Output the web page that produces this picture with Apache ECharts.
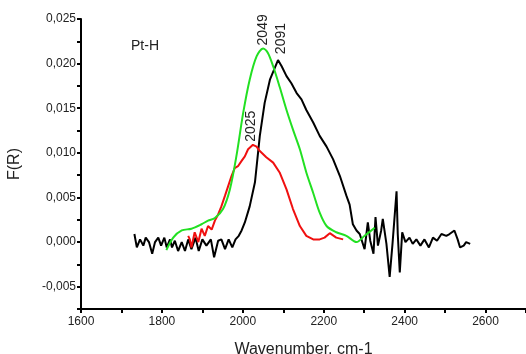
<!DOCTYPE html>
<html>
<head>
<meta charset="utf-8">
<script src="https://cdn.jsdelivr.net/npm/echarts@6/dist/echarts.min.js"></script>
<style>html,body{margin:0;padding:0;background:#fff}#c{width:526px;height:354px}</style>
</head>
<body>
<div id="c"></div>
<script>
const blackX = [1732,1738,1746,1754,1760,1768,1776,1783,1791,1798,1806,1812,1820,1825,1832,1840,1849,1857,1865,1873,1883,1891,1900,1910,1921,1929,1939,1947,1956,1965,1974,1982,1990,1997,2005,2017,2030,2042,2054,2067,2077,2087,2096,2108,2120,2133,2145,2157,2174,2190,2207,2223,2240,2256,2264,2272,2281,2289,2301,2309,2315,2323,2328,2334,2342,2346,2355,2363,2370,2380,2383,2388,2394,2402,2412,2420,2429,2439,2449,2460,2470,2480,2491,2503,2511,2523,2531,2537,2546,2552,2562];
const blackY = [0.0009,-0.0006,0.0003,-0.0004,0.0005,0.0000,-0.0013,0.0000,0.0005,-0.0004,0.0005,-0.0006,0.0003,-0.0006,0.00015,-0.0010,0.0000,-0.0010,0.0003,-0.0008,0.0005,-0.0010,0.0003,-0.0004,0.0003,-0.0017,0.00015,0.0003,-0.0008,0.0003,-0.0006,0.0003,0.0007,0.0013,0.0022,0.0040,0.0067,0.0119,0.0156,0.0182,0.0193,0.0204,0.0197,0.0186,0.0178,0.0167,0.0160,0.0148,0.0134,0.0119,0.0107,0.0093,0.0074,0.0052,0.0042,0.0020,0.0013,0.0009,-0.0008,0.0022,0.00015,-0.0013,0.0028,-0.0004,0.0013,0.0026,-0.0002,-0.0039,-0.0002,0.0057,0.0009,-0.0034,0.0011,0.0000,0.0005,-0.0002,0.0003,-0.0004,0.0003,-0.0006,0.0005,0.00015,0.0009,0.0007,0.0009,0.0013,0.0003,-0.0006,-0.0004,0.0000,-0.0002];

const greenX = [1811,1828,1849,1873,1898,1914,1931,1951,1968,1984,2001,2017,2034,2050,2062,2075,2091,2108,2124,2141,2157,2174,2190,2207,2231,2256,2281,2301,2326];
const greenY = [-0.0009,0.0005,0.0013,0.0015,0.0020,0.0024,0.0027,0.0037,0.0059,0.0096,0.0145,0.0182,0.0208,0.0217,0.0212,0.0197,0.0174,0.0148,0.0126,0.0104,0.0078,0.0055,0.0033,0.0018,0.0011,0.0007,0.0000,0.0007,0.0016];

const redX = [1865,1869,1873,1881,1890,1898,1906,1914,1923,1931,1939,1947,1956,1964,1972,1980,1988,1997,2005,2013,2025,2034,2042,2058,2075,2091,2108,2124,2141,2157,2174,2190,2202,2215,2231,2248];
const redY = [0.0007,0.0003,-0.0006,0.0011,0.0000,0.0015,0.0007,0.0018,0.0014,0.0024,0.0031,0.0040,0.0052,0.0063,0.0074,0.0083,0.0085,0.0091,0.0096,0.0104,0.0109,0.0107,0.0102,0.0095,0.0089,0.0078,0.0059,0.0037,0.0018,0.0007,0.0003,0.0003,0.0005,0.0010,0.0005,0.0003];

const peakLabels = ['2049','2091','2025'];
const peakCoords = [[2049,0.0217],[2091,0.0205],[2025,0.0109]];

const xTicks = [1600,1800,2000,2200,2400,2600];

const zip = (xs, ys) => xs.map((x, i) => [x, ys[i]]);
const FONT = '"Liberation Sans", Arial, sans-serif';

const chart = echarts.init(document.getElementById('c'), null, {renderer: 'canvas'});
chart.setOption({
  animation: false,
  backgroundColor: '#fff',
  grid: {left: 81, top: 19, right: 0, bottom: 45, containLabel: false, outerBoundsMode: 'none'},
  xAxis: {
    type: 'value', min: 1600, max: 2700, interval: 100,
    name: 'Wavenumber, cm-1', nameLocation: 'middle', nameGap: 33,
    nameTextStyle: {fontFamily: FONT, fontSize: 16, color: '#222'},
    axisLine: {show: true, onZero: false, lineStyle: {color: '#000', width: 2}},
    axisTick: {show: true, length: 4, lineStyle: {color: '#000', width: 2}},
    axisLabel: {
      fontFamily: FONT, fontSize: 12, color: '#222', margin: 7,
      formatter: v => xTicks.indexOf(Math.round(v)) >= 0 ? String(Math.round(v)) : ''
    },
    splitLine: {show: false}
  },
  yAxis: {
    type: 'value', min: -0.0075, max: 0.025, interval: 0.0025,
    name: 'F(R)', nameLocation: 'middle', nameGap: 58,
    nameTextStyle: {fontFamily: FONT, fontSize: 16, color: '#222'},
    axisLine: {show: true, onZero: false, lineStyle: {color: '#000', width: 2}},
    axisTick: {show: true, length: 4, lineStyle: {color: '#000', width: 2}},
    axisLabel: {
      fontFamily: FONT, fontSize: 12, color: '#222', margin: 5,
      formatter: v => {
        const k = Math.round(v / 0.0025);
        if (k % 2 !== 0) return '';
        const val = k * 0.0025;
        return (Math.abs(val) < 1e-9 ? '0.000' : val.toFixed(3)).replace('.', ',');
      }
    },
    splitLine: {show: false}
  },
  series: [
    {type: 'line', data: zip(blackX, blackY), showSymbol: false, lineStyle: {color: '#000', width: 2}, z: 2},
    {type: 'line', data: zip(redX, redY), showSymbol: false, lineStyle: {color: '#f01010', width: 2}, z: 3},
    {type: 'line', data: zip(greenX, greenY), showSymbol: false, smooth: 0.3, lineStyle: {color: '#22e022', width: 2}, z: 4}
  ]
});

const offsets = [[0,-3],[2,-5],[-2,-3]];
const graphics = [{
  type: 'text', left: 131, top: 39,
  style: {text: 'Pt-H', fontFamily: FONT, fontSize: 14, fill: '#222'}
}];
peakCoords.forEach((c, i) => {
  const p = chart.convertToPixel({gridIndex: 0}, c);
  graphics.push({
    type: 'text', x: p[0] + offsets[i][0], y: p[1] + offsets[i][1], rotation: Math.PI / 2,
    style: {text: peakLabels[i], fontFamily: FONT, fontSize: 14, fill: '#222', align: 'left', verticalAlign: 'middle'}
  });
});
chart.setOption({graphic: graphics});
</script>
</body>
</html>
